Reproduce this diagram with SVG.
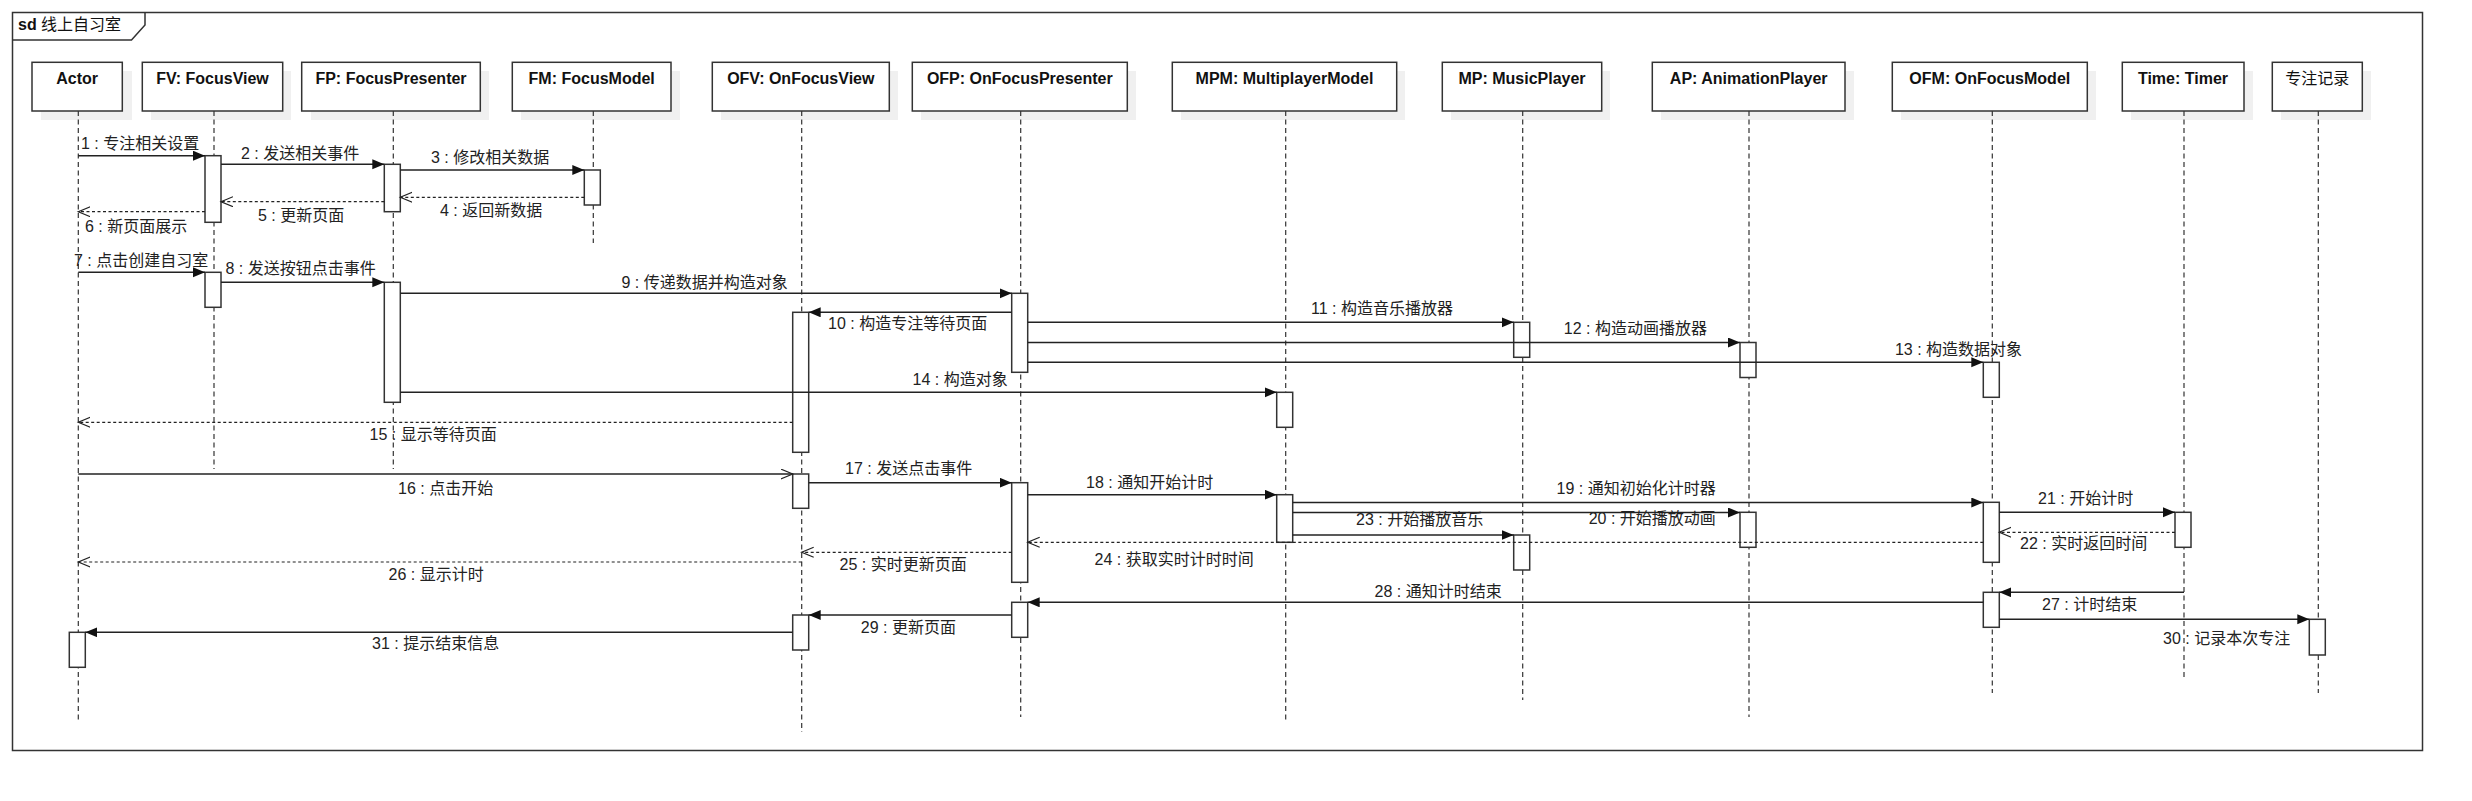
<svg xmlns="http://www.w3.org/2000/svg" width="2472" height="801" viewBox="0 0 2472 801">
<style>
.bg{fill:#ffffff}
.frame{fill:none;stroke:#333;stroke-width:1.5}
.shadow{fill:#f0f0f0}
.box{fill:#fff;stroke:#333;stroke-width:1.5}
.life{fill:none;stroke:#333;stroke-width:1.2;stroke-dasharray:5 3.5}
.act{fill:#fff;stroke:#333;stroke-width:1.5}
.msg{fill:none;stroke:#222;stroke-width:1.5}
.ret{fill:none;stroke:#222;stroke-width:1.2;stroke-dasharray:3 2.5}
.title{font-family:"Liberation Sans","Noto Sans CJK SC",sans-serif;font-size:16px;font-weight:bold;fill:#111;text-anchor:middle}
.ctitle{font-family:"Liberation Sans","Noto Sans CJK SC",sans-serif;font-size:16px;fill:#111;text-anchor:middle}
.lbl{font-family:"Liberation Sans","Noto Sans CJK SC",sans-serif;font-size:16px;fill:#222}
.sd{font-family:"Liberation Sans","Noto Sans CJK SC",sans-serif;font-size:16px;fill:#111}
</style>
<defs>
<marker id="fill" markerUnits="userSpaceOnUse" markerWidth="13" markerHeight="11" refX="12" refY="5" orient="auto">
<path d="M0,0 L12,5 L0,10 z" fill="#111"/>
</marker>
<marker id="open" markerUnits="userSpaceOnUse" markerWidth="14" markerHeight="12" refX="12" refY="5.5" orient="auto">
<path d="M0,0.5 L12,5.5 L0,10.5" fill="none" stroke="#222" stroke-width="1.2"/>
</marker>
</defs>
<rect class="bg" x="0" y="0" width="2472" height="801"/>
<g id="frame">
<rect class="frame" x="12.5" y="12.5" width="2410" height="738"/>
<polyline class="frame" points="12.5,40 131.5,40 145,25 145,12.5"/>
<text class="sd" x="18" y="29.5"><tspan font-weight="bold">sd</tspan> 线上自习室</text>
</g>
<g id="actor">
<rect class="shadow" x="41" y="71" width="91" height="49"/>
<rect class="box" x="32" y="62.3" width="90.3" height="48.7"/>
<text class="title" x="77.2" y="83.5">Actor</text>
<line class="life" x1="78.3" y1="111" x2="78.3" y2="723"/>
<rect class="act" x="69.3" y="632.3" width="16" height="35"/>
</g>
<g id="fv">
<rect class="shadow" x="151" y="71" width="140" height="49"/>
<rect class="box" x="142.3" y="62.3" width="140.4" height="48.7"/>
<text class="title" x="212.5" y="83.5">FV: FocusView</text>
<line class="life" x1="214" y1="111" x2="214" y2="469"/>
<rect class="act" x="205" y="155.7" width="16" height="66.6"/>
<rect class="act" x="205" y="272.3" width="16" height="35"/>
</g>
<g id="fp">
<rect class="shadow" x="311" y="71" width="178" height="49"/>
<rect class="box" x="301.7" y="62.3" width="178.6" height="48.7"/>
<text class="title" x="391" y="83.5">FP: FocusPresenter</text>
<line class="life" x1="393.3" y1="111" x2="393.3" y2="469"/>
<rect class="act" x="384.3" y="164.3" width="16" height="47.4"/>
<rect class="act" x="384.3" y="282.3" width="16" height="120"/>
</g>
<g id="fm">
<rect class="shadow" x="521" y="71" width="159" height="49"/>
<rect class="box" x="512.3" y="62.3" width="158.7" height="48.7"/>
<text class="title" x="591.7" y="83.5">FM: FocusModel</text>
<line class="life" x1="593.3" y1="111" x2="593.3" y2="243"/>
<rect class="act" x="584.3" y="170" width="16" height="35"/>
</g>
<g id="ofv">
<rect class="shadow" x="721" y="71" width="177" height="49"/>
<rect class="box" x="712.3" y="62.3" width="177" height="48.7"/>
<text class="title" x="800.8" y="83.5">OFV: OnFocusView</text>
<line class="life" x1="801.7" y1="111" x2="801.7" y2="732"/>
<rect class="act" x="792.7" y="312.3" width="16" height="140"/>
<rect class="act" x="792.7" y="474" width="16" height="34.3"/>
<rect class="act" x="792.7" y="615" width="16" height="35"/>
</g>
<g id="ofp">
<rect class="shadow" x="921" y="71" width="215" height="49"/>
<rect class="box" x="912.3" y="62.3" width="215" height="48.7"/>
<text class="title" x="1019.8" y="83.5">OFP: OnFocusPresenter</text>
<line class="life" x1="1020.7" y1="111" x2="1020.7" y2="717"/>
<rect class="act" x="1011.7" y="293.3" width="16" height="79"/>
<rect class="act" x="1011.7" y="482.7" width="16" height="99.6"/>
<rect class="act" x="1011.7" y="602.3" width="16" height="35"/>
</g>
<g id="mpm">
<rect class="shadow" x="1181" y="71" width="224" height="49"/>
<rect class="box" x="1172.3" y="62.3" width="224.4" height="48.7"/>
<text class="title" x="1284.5" y="83.5">MPM: MultiplayerModel</text>
<line class="life" x1="1285.7" y1="111" x2="1285.7" y2="723"/>
<rect class="act" x="1276.7" y="392.3" width="16" height="35"/>
<rect class="act" x="1276.7" y="494.7" width="16" height="47.6"/>
</g>
<g id="mp">
<rect class="shadow" x="1451" y="71" width="159" height="49"/>
<rect class="box" x="1442.3" y="62.3" width="159.4" height="48.7"/>
<text class="title" x="1522" y="83.5">MP: MusicPlayer</text>
<line class="life" x1="1522.7" y1="111" x2="1522.7" y2="700"/>
<rect class="act" x="1513.7" y="322.3" width="16" height="35"/>
<rect class="act" x="1513.7" y="535" width="16" height="35"/>
</g>
<g id="ap">
<rect class="shadow" x="1661" y="71" width="193" height="49"/>
<rect class="box" x="1652.3" y="62.3" width="192.7" height="48.7"/>
<text class="title" x="1748.7" y="83.5">AP: AnimationPlayer</text>
<line class="life" x1="1749" y1="111" x2="1749" y2="717"/>
<rect class="act" x="1740" y="342.5" width="16" height="35"/>
<rect class="act" x="1740" y="512.3" width="16" height="35"/>
</g>
<g id="ofm">
<rect class="shadow" x="1901" y="71" width="195" height="49"/>
<rect class="box" x="1892.3" y="62.3" width="195" height="48.7"/>
<text class="title" x="1989.8" y="83.5">OFM: OnFocusModel</text>
<line class="life" x1="1992.3" y1="111" x2="1992.3" y2="693"/>
<rect class="act" x="1983.3" y="362.3" width="16" height="35"/>
<rect class="act" x="1983.3" y="502.3" width="16" height="60"/>
<rect class="act" x="1983.3" y="592.3" width="16" height="35"/>
</g>
<g id="timer">
<rect class="shadow" x="2131" y="71" width="122" height="49"/>
<rect class="box" x="2122.3" y="62.3" width="121.7" height="48.7"/>
<text class="title" x="2183" y="83.5">Time: Timer</text>
<line class="life" x1="2184" y1="111" x2="2184" y2="678"/>
<rect class="act" x="2175" y="512.3" width="16" height="35"/>
</g>
<g id="record">
<rect class="shadow" x="2281" y="71" width="90" height="49"/>
<rect class="box" x="2272.3" y="62.3" width="90" height="48.7"/>
<text class="ctitle" x="2317.3" y="84">专注记录</text>
<line class="life" x1="2318.3" y1="111" x2="2318.3" y2="693"/>
<rect class="act" x="2309.3" y="619.3" width="16" height="35.7"/>
</g>
<g id="connectors">
<line class="msg" x1="78.3" y1="155.7" x2="205" y2="155.7" marker-end="url(#fill)"/>
<line class="msg" x1="221" y1="164.3" x2="384.3" y2="164.3" marker-end="url(#fill)"/>
<line class="msg" x1="400.3" y1="170" x2="584.3" y2="170" marker-end="url(#fill)"/>
<line class="ret" x1="584.3" y1="197.3" x2="400.3" y2="197.3" marker-end="url(#open)"/>
<line class="ret" x1="384.3" y1="201.7" x2="221" y2="201.7" marker-end="url(#open)"/>
<line class="ret" x1="205" y1="211.7" x2="78.3" y2="211.7" marker-end="url(#open)"/>
<line class="msg" x1="78.3" y1="272.3" x2="205" y2="272.3" marker-end="url(#fill)"/>
<line class="msg" x1="221" y1="282.3" x2="384.3" y2="282.3" marker-end="url(#fill)"/>
<line class="msg" x1="400.3" y1="293.3" x2="1011.7" y2="293.3" marker-end="url(#fill)"/>
<line class="msg" x1="1011.7" y1="312.3" x2="808.7" y2="312.3" marker-end="url(#fill)"/>
<line class="msg" x1="1027.7" y1="322.3" x2="1513.7" y2="322.3" marker-end="url(#fill)"/>
<line class="msg" x1="1027.7" y1="342.5" x2="1740" y2="342.5" marker-end="url(#fill)"/>
<line class="msg" x1="1027.7" y1="362.3" x2="1983.3" y2="362.3" marker-end="url(#fill)"/>
<line class="msg" x1="400.3" y1="392.3" x2="1276.7" y2="392.3" marker-end="url(#fill)"/>
<line class="ret" x1="792.7" y1="422.3" x2="78.3" y2="422.3" marker-end="url(#open)"/>
<line class="msg" x1="78.3" y1="474" x2="792.7" y2="474" marker-end="url(#open)"/>
<line class="msg" x1="808.7" y1="482.7" x2="1011.7" y2="482.7" marker-end="url(#fill)"/>
<line class="msg" x1="1027.7" y1="494.7" x2="1276.7" y2="494.7" marker-end="url(#fill)"/>
<line class="msg" x1="1292.7" y1="502.5" x2="1983.3" y2="502.5" marker-end="url(#fill)"/>
<line class="msg" x1="1292.7" y1="512.5" x2="1740" y2="512.5" marker-end="url(#fill)"/>
<line class="msg" x1="1999.3" y1="512.3" x2="2175" y2="512.3" marker-end="url(#fill)"/>
<line class="ret" x1="2175" y1="532.3" x2="1999.3" y2="532.3" marker-end="url(#open)"/>
<line class="msg" x1="1292.7" y1="535" x2="1513.7" y2="535" marker-end="url(#fill)"/>
<line class="ret" x1="1983.3" y1="542.3" x2="1027.7" y2="542.3" marker-end="url(#open)"/>
<line class="ret" x1="1011.7" y1="552.3" x2="801.7" y2="552.3" marker-end="url(#open)"/>
<line class="ret" x1="801.7" y1="562" x2="78.3" y2="562" marker-end="url(#open)"/>
<line class="msg" x1="2184" y1="592.3" x2="1999.3" y2="592.3" marker-end="url(#fill)"/>
<line class="msg" x1="1983.3" y1="602.3" x2="1027.7" y2="602.3" marker-end="url(#fill)"/>
<line class="msg" x1="1011.7" y1="615" x2="808.7" y2="615" marker-end="url(#fill)"/>
<line class="msg" x1="1999.3" y1="619.3" x2="2309.3" y2="619.3" marker-end="url(#fill)"/>
<line class="msg" x1="792.7" y1="632.3" x2="85.3" y2="632.3" marker-end="url(#fill)"/>
<text class="lbl" x="81" y="149">1 : 专注相关设置</text>
<text class="lbl" x="241" y="159">2 : 发送相关事件</text>
<text class="lbl" x="431" y="163">3 : 修改相关数据</text>
<text class="lbl" x="440" y="216">4 : 返回新数据</text>
<text class="lbl" x="258" y="221">5 : 更新页面</text>
<text class="lbl" x="85" y="231.5">6 : 新页面展示</text>
<text class="lbl" x="74" y="266">7 : 点击创建自习室</text>
<text class="lbl" x="225.5" y="274">8 : 发送按钮点击事件</text>
<text class="lbl" x="621.4" y="287.7">9 : 传递数据并构造对象</text>
<text class="lbl" x="828" y="329">10 : 构造专注等待页面</text>
<text class="lbl" x="1311" y="314">11 : 构造音乐播放器</text>
<text class="lbl" x="1563.8" y="334">12 : 构造动画播放器</text>
<text class="lbl" x="1894.9" y="355">13 : 构造数据对象</text>
<text class="lbl" x="912.5" y="385">14 : 构造对象</text>
<text class="lbl" x="369.6" y="440">15 : 显示等待页面</text>
<text class="lbl" x="398" y="494">16 : 点击开始</text>
<text class="lbl" x="845" y="474">17 : 发送点击事件</text>
<text class="lbl" x="1086" y="487.5">18 : 通知开始计时</text>
<text class="lbl" x="1556.6" y="494">19 : 通知初始化计时器</text>
<text class="lbl" x="1588.7" y="524">20 : 开始播放动画</text>
<text class="lbl" x="2038" y="504">21 : 开始计时</text>
<text class="lbl" x="2020" y="549">22 : 实时返回时间</text>
<text class="lbl" x="1356" y="525">23 : 开始播放音乐</text>
<text class="lbl" x="1094.5" y="565">24 : 获取实时计时时间</text>
<text class="lbl" x="839.6" y="570">25 : 实时更新页面</text>
<text class="lbl" x="388.6" y="580">26 : 显示计时</text>
<text class="lbl" x="2042" y="610">27 : 计时结束</text>
<text class="lbl" x="1374.6" y="596.5">28 : 通知计时结束</text>
<text class="lbl" x="860.8" y="632.5">29 : 更新页面</text>
<text class="lbl" x="2163" y="643.5">30 : 记录本次专注</text>
<text class="lbl" x="372" y="649">31 : 提示结束信息</text>
</g>
</svg>
